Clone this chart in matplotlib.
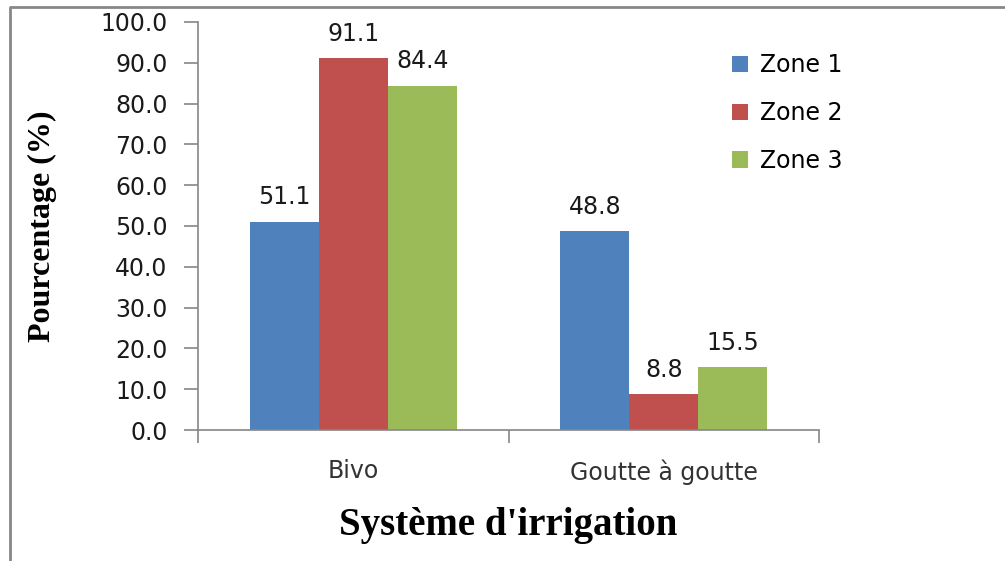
import numpy as np
import matplotlib.pyplot as plt
from matplotlib.lines import Line2D

# data
categories = ["Bivo", "Goutte à goutte"]
zones = ["Zone 1", "Zone 2", "Zone 3"]
zone1 = [51.1, 48.8]
zone2 = [91.1, 8.8]
zone3 = [84.4, 15.5]
colors = ["#4F81BD", "#C0504D", "#9BBB59"]

fig = plt.figure(figsize=(10.05, 5.61), dpi=100)
ax = fig.add_axes([0.197, 0.2335, 0.618, 0.7273])

x = np.arange(len(categories))
w = 0.222
for i, (vals, lab, c) in enumerate(zip([zone1, zone2, zone3], zones, colors)):
    pos = x + (i - 1) * w
    ax.bar(pos, vals, width=w, color=c, label=lab)
    for p, v in zip(pos, vals):
        ax.text(p, v + 3, f"{v:.1f}", ha="center", va="bottom", fontsize=17, color="#1a1a1a")

ax.set_xlim(-0.5, 1.5)
ax.set_ylim(0, 100)
ax.set_yticks(np.arange(0, 101, 10))
ax.set_yticklabels([f"{t:.1f}" for t in np.arange(0, 101, 10)], fontsize=17, color="#1a1a1a")
ax.set_xticks([-0.5, 0.5, 1.5])
ax.set_xticklabels([])
ax.set_xticks(x, minor=True)
ax.set_xticklabels(categories, minor=True, fontsize=17, color="#333333")
ax.tick_params(axis="x", which="minor", length=0, pad=21)
ax.tick_params(axis="x", which="major", length=9, color="#868686", width=1.2)
ax.tick_params(axis="y", length=10, color="#868686", width=1.2, pad=12)

for s in ["top", "right"]:
    ax.spines[s].set_visible(False)
for s in ["left", "bottom"]:
    ax.spines[s].set_color("#868686")
    ax.spines[s].set_linewidth(1.2)

ax.set_ylabel("Pourcentage (%)", fontsize=23, fontweight="bold",
              family="Liberation Serif", labelpad=31)
ax.set_xlabel("Système d'irrigation", fontsize=28, fontweight="bold",
              family="Liberation Serif", labelpad=16)

ax.legend(loc="upper left", bbox_to_anchor=(0.825, 0.975), frameon=False,
          fontsize=17, handlelength=0.7, handleheight=0.7,
          labelspacing=1.0, handletextpad=0.5)

# outer frame (left and top edges)
fig.add_artist(Line2D([10 / 1005, 10 / 1005, 1.0], [0, 1 - 7 / 561, 1 - 7 / 561],
                      transform=fig.transFigure, color="#878787", lw=2))

fig.savefig("out.png", dpi=100)
